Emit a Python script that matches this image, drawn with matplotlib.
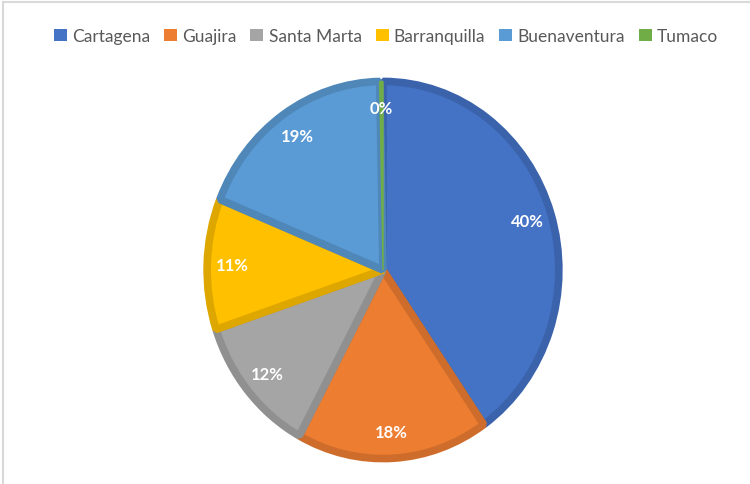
import matplotlib
matplotlib.use("Agg")
import matplotlib.pyplot as plt
from matplotlib.lines import Line2D
from matplotlib.patches import Patch
import matplotlib.colors as mcolors

categories = ["Cartagena", "Guajira", "Santa Marta", "Barranquilla", "Buenaventura", "Tumaco"]
values = [40.3, 17.6, 12.0, 11.2, 18.6, 0.3]
colors = ["#4472C4", "#ED7D31", "#A5A5A5", "#FFC000", "#5B9BD5", "#70AD47"]

def darker(c, f=0.87):
    r, g, b = mcolors.to_rgb(c)
    return (r * f, g * f, b * f)

W, H = 750, 485
fig = plt.figure(figsize=(W / 100, H / 100), dpi=100)
fig.patch.set_facecolor("white")

cx, cy, rx, ry = 383, 271, 180, 193
ax = fig.add_axes([(cx - rx) / W, (H - cy - ry) / H, 2 * rx / W, 2 * ry / H])
ax.axis("off")

wedges, texts, autotexts = ax.pie(
    values, colors=colors, startangle=90, counterclock=False,
    radius=0.977, autopct="%1.0f%%", pctdistance=0.86,
    wedgeprops=dict(linewidth=5.5, joinstyle="bevel"),
    textprops=dict(color="white", fontsize=12, fontweight="bold", family="Lato"),
    frame=False,
)
total = sum(values)
for w, c, v in zip(wedges, colors, values):
    w.set_edgecolor(darker(c))
    if v / total < 0.01:
        w.set_linewidth(1.0)
        w.set_edgecolor(c)
ax.set_aspect("auto")
ax.set_xlim(-1, 1)
ax.set_ylim(-1, 1)

handles = [Patch(facecolor=c, edgecolor="none") for c in colors]
fig.legend(handles, categories, loc="center", bbox_to_anchor=(386 / W, 1 - 37 / H),
           ncol=6, frameon=False, handlelength=0.75, handleheight=0.75,
           handletextpad=0.3, columnspacing=0.8,
           prop=dict(family="Lato", size=12.5), labelcolor="#595959")

fig.add_artist(Line2D([3 / W, 3 / W], [0, 1 - 3 / H], color="#D9D9D9", lw=1.5))
fig.add_artist(Line2D([3 / W, 1], [1 - 3 / H, 1 - 3 / H], color="#D9D9D9", lw=1.5))

fig.savefig("out.png", dpi=100, facecolor="white")
